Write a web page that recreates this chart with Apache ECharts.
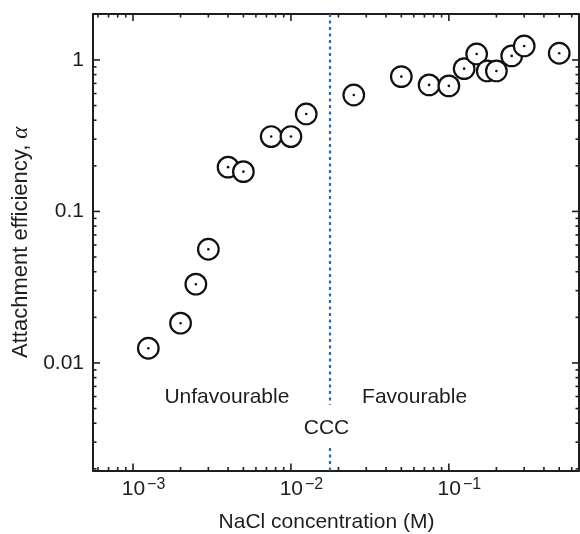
<!DOCTYPE html>
<html><head><meta charset="utf-8">
<script src="https://cdn.jsdelivr.net/npm/echarts@6/dist/echarts.min.js"></script>
<style>html,body{margin:0;padding:0;background:#fff}#c{width:580px;height:534px}</style>
</head><body><div id="c"></div>
<script>
// ---- data ----
const naclConc = [0.00125, 0.002, 0.0025, 0.003, 0.004, 0.005, 0.0075, 0.01, 0.0125, 0.025, 0.05, 0.075, 0.1, 0.125, 0.15, 0.175, 0.2, 0.25, 0.3, 0.5];
const alphaEff = [0.0125, 0.0183, 0.0331, 0.0563, 0.196, 0.183, 0.312, 0.312, 0.44, 0.587, 0.776, 0.684, 0.674, 0.876, 1.095, 0.846, 0.846, 1.063, 1.237, 1.107];
const xRange = [5.58e-4, 0.667];
const yRange = [0.00195, 2.01];
const xMajorTicks = [0.001, 0.01, 0.1];
const xTickExponents = ['−3', '−2', '−1'];
const xMinorTicks = [6e-4, 7e-4, 8e-4, 9e-4, 2e-3, 3e-3, 4e-3, 5e-3, 6e-3, 7e-3, 8e-3, 9e-3, 0.02, 0.03, 0.04, 0.05, 0.06, 0.07, 0.08, 0.09, 0.2, 0.3, 0.4, 0.5, 0.6];
const yMajorTicks = [0.01, 0.1, 1];
const yTickLabels = ['0.01', '0.1', '1'];
const yMinorTicks = [0.002, 0.003, 0.004, 0.005, 0.006, 0.007, 0.008, 0.009, 0.02, 0.03, 0.04, 0.05, 0.06, 0.07, 0.08, 0.09, 0.2, 0.3, 0.4, 0.5, 0.6, 0.7, 0.8, 0.9];
const cccValue = 0.0175;
const cccSegments = [[2.01, 0.0053], [0.00275, 0.00195]];
const annotationText = ['Unfavourable', 'Favourable', 'CCC'];
const annotationX = [0.00393, 0.0607, 0.0168];
const annotationY = [0.00597, 0.00597, 0.00372];

// ---- chart ----
const FONT = 'Liberation Sans, Arial, sans-serif';
const INK = '#1e1e1e';
const FS = 21;
const chart = echarts.init(document.getElementById('c'), null, {renderer: 'canvas'});

function isPow(v, list) {
  const e = Math.log10(v);
  for (let i = 0; i < list.length; i++) if (Math.abs(Math.log10(list[i]) - e) < 1e-6) return i;
  return -1;
}

const axisLine = {show: true, lineStyle: {color: INK, width: 2}};
const plainX = pos => ({type: 'log', logBase: 10, position: pos, min: xRange[0], max: xRange[1],
  axisLine, axisTick: {show: false}, axisLabel: {show: false}, splitLine: {show: false}});
const plainY = pos => ({type: 'log', logBase: 10, position: pos, min: yRange[0], max: yRange[1],
  axisLine, axisTick: {show: false}, axisLabel: {show: false}, splitLine: {show: false}});

const xTickData = xMajorTicks.map(v => [v, 1, 1]).concat(xMinorTicks.map(v => [v, 1, 0]));
const yTickData = yMajorTicks.map(v => [0.001, v, 1]).concat(yMinorTicks.map(v => [0.001, v, 0]));
const tickStyle = {stroke: INK, lineWidth: 1.6};

const option = {
  backgroundColor: '#fff',
  animation: false,
  grid: {left: 93, top: 14, right: 1, bottom: 63.5, outerBoundsMode: 'none', containLabel: false},
  xAxis: [
    Object.assign(plainX('bottom'), {
      name: 'NaCl concentration (M)', nameLocation: 'middle', nameGap: 41,
      nameTextStyle: {fontFamily: FONT, fontSize: FS, color: INK, padding: [0, 19, 0, 0]},
      axisLabel: {show: true, margin: 6, fontFamily: FONT, color: INK,
        formatter: v => { const i = isPow(v, xMajorTicks); return i < 0 ? '' : '{pad|}{b|10}{s|' + xTickExponents[i] + '}'; },
        rich: {
          pad: {width: 21, fontSize: FS, lineHeight: 26},
          b: {fontSize: FS, fontFamily: FONT, color: INK, lineHeight: 26},
          s: {fontSize: 16, fontFamily: FONT, color: INK, lineHeight: 16, verticalAlign: 'top', padding: [0, 0, 0, 2]}
        }}
    }),
    plainX('top')
  ],
  yAxis: [
    Object.assign(plainY('left'), {
      name: 'Attachment efficiency, {a|α}', nameLocation: 'middle', nameGap: 60,
      nameTextStyle: {fontFamily: FONT, fontSize: 22, color: INK,
        rich: {a: {fontFamily: 'Liberation Serif, serif', fontStyle: 'italic', fontSize: 23, color: INK}}},
      axisLabel: {show: true, margin: 9, fontFamily: FONT, fontSize: FS, color: INK,
        formatter: v => { const i = isPow(v, yMajorTicks); return i < 0 ? '' : yTickLabels[i]; }}
    }),
    plainY('right')
  ],
  series: [
    {
      type: 'custom', silent: true, clip: false, xAxisIndex: 0, yAxisIndex: 0,
      encode: {x: 0, y: 1}, data: xTickData,
      renderItem: (params, api) => {
        const cs = params.coordSys;
        const p = api.coord([api.value(0), api.value(1)]);
        const len = api.value(2) === 1 ? 7 : 3.5;
        const b = cs.y + cs.height, t = cs.y;
        return {type: 'group', children: [
          {type: 'line', shape: {x1: p[0], y1: b, x2: p[0], y2: b - len}, style: tickStyle},
          {type: 'line', shape: {x1: p[0], y1: t, x2: p[0], y2: t + len}, style: tickStyle}
        ]};
      }
    },
    {
      type: 'custom', silent: true, clip: false, xAxisIndex: 0, yAxisIndex: 0,
      encode: {x: 0, y: 1}, data: yTickData,
      renderItem: (params, api) => {
        const cs = params.coordSys;
        const p = api.coord([api.value(0), api.value(1)]);
        const len = api.value(2) === 1 ? 7 : 3.5;
        const l = cs.x, r = cs.x + cs.width;
        return {type: 'group', children: [
          {type: 'line', shape: {x1: l, y1: p[1], x2: l + len, y2: p[1]}, style: tickStyle},
          {type: 'line', shape: {x1: r, y1: p[1], x2: r - len, y2: p[1]}, style: tickStyle}
        ]};
      }
    },
    {
      type: 'scatter', silent: true, xAxisIndex: 0, yAxisIndex: 0, symbolSize: 0,
      itemStyle: {opacity: 1, color: INK},
      data: annotationText.map((t, i) => ({name: t, value: [annotationX[i], annotationY[i]]})),
      label: {show: true, position: 'inside', formatter: '{b}', fontFamily: FONT, fontSize: FS,
        color: INK, textBorderWidth: 0, opacity: 1},
      markLine: {
        silent: true, symbol: 'none', label: {show: false},
        lineStyle: {color: '#2d66ad', width: 2.2, type: [3, 3.5], opacity: 1},
        data: cccSegments.map(s => [{coord: [cccValue, s[0]]}, {coord: [cccValue, s[1]]}])
      }
    },
    {
      type: 'custom', xAxisIndex: 0, yAxisIndex: 0, encode: {x: 0, y: 1},
      data: naclConc.map((x, i) => [x, alphaEff[i]]),
      renderItem: (params, api) => {
        const p = api.coord([api.value(0), api.value(1)]);
        return {type: 'group', children: [
          {type: 'circle', shape: {cx: p[0], cy: p[1], r: 10.3}, style: {fill: '#fff', stroke: '#111', lineWidth: 2.2}},
          {type: 'circle', shape: {cx: p[0], cy: p[1], r: 1.3}, style: {fill: '#111'}}
        ]};
      }
    }
  ]
};
chart.setOption(option);
</script></body></html>
